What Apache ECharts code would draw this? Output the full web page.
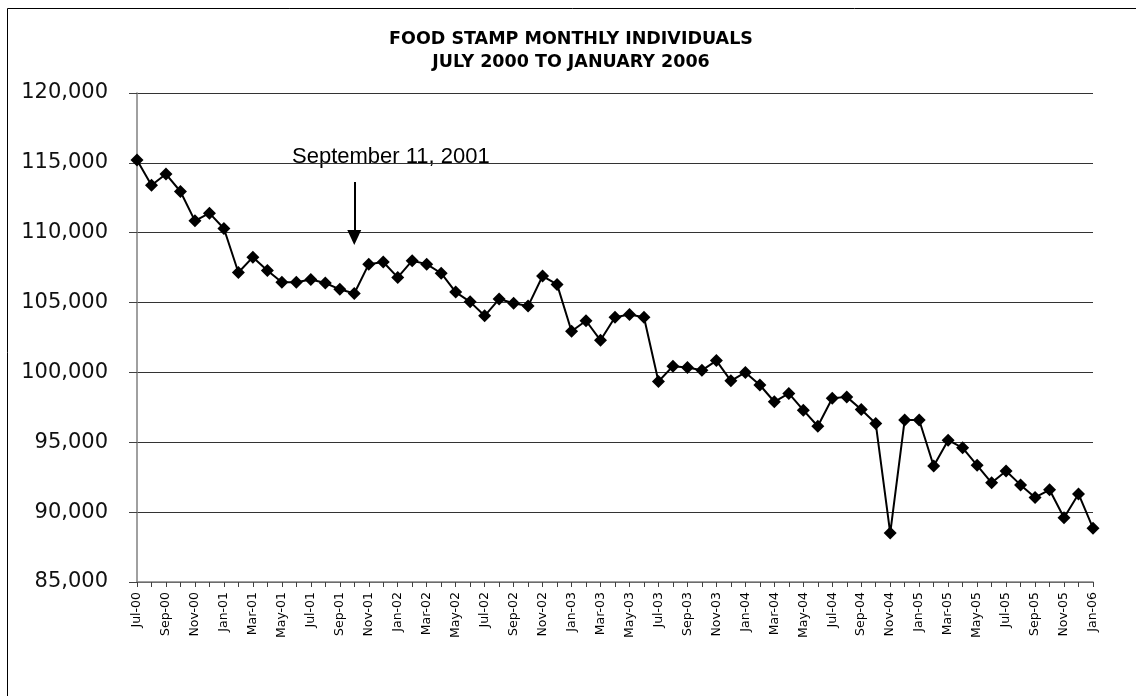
<!DOCTYPE html>
<html>
<head>
<meta charset="utf-8">
<script src="https://cdn.jsdelivr.net/npm/echarts@6/dist/echarts.min.js"></script>
<style>
  html, body { margin: 0; padding: 0; background: #fff; }
  #chart { width: 1136px; height: 696px; }
</style>
</head>
<body>
<div id="chart"></div>
<script>
// months Jul-00 .. Jan-06
var monthNames = ['Jan','Feb','Mar','Apr','May','Jun','Jul','Aug','Sep','Oct','Nov','Dec'];
var categories = [];
for (var i = 0; i < 67; i++) {
  var m = (6 + i) % 12;
  var y = Math.floor((6 + i) / 12);
  categories.push(monthNames[m] + '-0' + y);
}

// monthly individuals
var individuals = [
  115200, 113400, 114200, 112950, 110850, 111400,
  110300, 107150, 108250, 107300, 106450, 106450,
  106650, 106400, 105950, 105650, 107750, 107900,
  106800, 108000, 107750, 107100, 105750, 105050,
  104050, 105250, 104950, 104750, 106900, 106300,
  102950, 103700, 102300, 103950, 104150, 103950,
  99350, 100450, 100350, 100150, 100850, 99400,
  100000, 99100, 97900, 98500, 97300, 96150,
  98150, 98250, 97350, 96350, 88500, 96600,
  96600, 93300, 95150, 94600, 93350, 92100,
  92950, 91950, 91050, 91600, 89600, 91300,
  88850
];

var yTicks = { min: 85000, max: 120000, step: 5000 };

var titleLines = ['FOOD STAMP MONTHLY INDIVIDUALS', 'JULY 2000 TO JANUARY 2006'];
var eventLabel = 'September 11, 2001';
var eventMonth = 'Oct-01';
var arrowFrom = 113630;
var arrowTo = 109660;

var myChart = echarts.init(document.getElementById('chart'));

myChart.setOption({
  animation: false,
  backgroundColor: '#fff',
  grid: {
    left: 137,
    right: 43,
    top: 93,
    bottom: 114
  },
  graphic: [
    {
      type: 'rect',
      left: 5,
      top: 6,
      shape: { width: 1160, height: 720 },
      style: { fill: 'none', stroke: '#000', lineWidth: 1 },
      silent: true
    },
    {
      type: 'text',
      x: 571,
      y: 51,
      style: {
        text: titleLines.join('\n'),
        fontFamily: 'DejaVu Sans',
        fontWeight: 'bold',
        fontSize: 17.5,
        lineHeight: 23,
        fill: '#000',
        align: 'center',
        verticalAlign: 'middle'
      }
    },
    {
      type: 'text',
      x: 292,
      y: 157,
      style: {
        text: eventLabel,
        fontFamily: 'Liberation Sans, Arial',
        fontSize: 22,
        fill: '#000',
        align: 'left',
        verticalAlign: 'middle'
      }
    }
  ],
  xAxis: {
    type: 'category',
    boundaryGap: false,
    data: categories,
    axisLine: {
      lineStyle: { color: '#808080', width: 1.5 }
    },
    axisTick: {
      show: true,
      interval: 0,
      length: 5,
      lineStyle: { color: '#404040' }
    },
    axisLabel: {
      interval: 1,
      rotate: 90,
      margin: 10,
      fontFamily: 'DejaVu Sans',
      fontSize: 12.5,
      color: '#000'
    },
    splitLine: { show: false }
  },
  yAxis: {
    type: 'value',
    min: yTicks.min,
    max: yTicks.max,
    interval: yTicks.step,
    axisLine: {
      show: true,
      lineStyle: { color: '#808080', width: 1.5 }
    },
    axisTick: {
      show: true,
      length: 8,
      lineStyle: { color: '#404040' }
    },
    axisLabel: {
      margin: 29,
      fontFamily: 'DejaVu Sans',
      fontSize: 21,
      color: '#111',
      formatter: function (v) { return v.toLocaleString('en-US'); }
    },
    splitLine: {
      show: true,
      lineStyle: { color: '#333', width: 1 }
    }
  },
  series: [
    {
      name: 'Individuals',
      type: 'line',
      data: individuals,
      symbol: 'diamond',
      symbolSize: 13,
      showSymbol: true,
      showAllSymbol: true,
      lineStyle: { color: '#000', width: 2 },
      itemStyle: { color: '#000' },
      markLine: {
        silent: true,
        symbol: ['none', 'triangle'],
        symbolSize: [14, 15],
        label: { show: false },
        lineStyle: { color: '#000', width: 2, type: 'solid' },
        data: [
          [
            { coord: [eventMonth, arrowFrom] },
            { coord: [eventMonth, arrowTo] }
          ]
        ]
      }
    }
  ]
});

window.addEventListener('resize', function () {
  myChart.resize();
});
</script>
</body>
</html>
